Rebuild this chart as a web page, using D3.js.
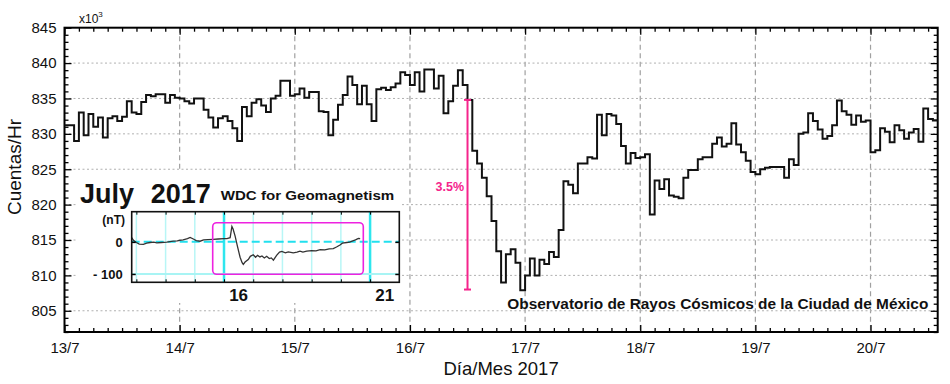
<!DOCTYPE html>
<html>
<head>
<meta charset="utf-8">
<script src="https://cdn.jsdelivr.net/npm/d3@7"></script>
<style>
  body { margin: 0; background: #fff; }
  svg text { font-family: 'Liberation Sans', Arial, sans-serif; }
</style>
</head>
<body>
<script>
// hourly counts (x10^3) from 13/7 00:00
const counts = [
  831.2, 831.2, 829.0, 833.0, 829.8, 832.8, 831.0, 832.3, 829.5, 832.2, 832.5, 831.8,
  832.4, 834.6, 833.0, 832.8, 834.5, 835.5, 835.3, 835.6, 835.6, 834.4, 835.5, 835.1,
  835.0, 834.6, 834.3, 835.0, 835.0, 833.4, 832.3, 830.9, 832.2, 832.5, 831.8, 830.8,
  829.0, 833.8, 832.5, 834.4, 834.9, 834.0, 833.1, 835.0, 835.4, 837.5, 837.5, 835.4,
  835.6, 836.4, 835.1, 835.9, 835.9, 833.2, 833.1, 829.8, 832.0, 834.1, 835.5, 838.1,
  836.9, 834.2, 836.8, 834.2, 831.8, 836.3, 836.5, 836.2, 836.6, 837.1, 838.7, 838.3,
  836.9, 838.7, 836.0, 839.1, 839.1, 836.4, 838.2, 832.9, 834.6, 836.8, 839.0, 836.9,
  834.8, 827.6, 825.8, 823.8, 821.2, 817.7, 813.4, 809.0, 813.0, 813.7, 811.8, 807.9,
  810.0, 812.4, 810.0, 812.2, 811.6, 813.3, 812.6, 816.4, 823.3, 822.8, 821.6, 825.8,
  825.8, 826.7, 826.5, 832.7, 829.8, 832.8, 832.6, 831.4, 828.3, 825.8, 827.3, 826.6,
  826.7, 827.1, 818.6, 823.4, 822.2, 823.6, 821.3, 821.1, 820.9, 823.8, 824.9, 824.9,
  826.4, 826.7, 826.7, 828.6, 829.5, 828.2, 828.6, 831.5, 828.5, 827.4, 826.2, 824.6,
  824.3, 825.0, 825.2, 825.3, 825.3, 825.3, 823.8, 826.4, 825.6, 830.0, 830.2, 832.9,
  831.8, 830.6, 829.3, 829.7, 831.2, 834.7, 833.2, 832.7, 831.3, 832.6, 831.7, 831.9,
  827.4, 827.7, 830.8, 830.3, 828.8, 831.2, 830.5, 829.3, 830.2, 830.7, 828.9, 833.6,
  832.1, 831.9
]
const endHour = 182
const dayLabels = ['13/7', '14/7', '15/7', '16/7', '17/7', '18/7', '19/7', '20/7']
const yTicks = [805, 810, 815, 820, 825, 830, 835, 840, 845]
const yMin = 802
const yMax = 845

// decrease marker
const dropHour = 84
const dropTop = 834.8
const dropBottom = 808
const dropLabel = '3.5%'

// inset: Dst index (nT), July 2017
const dstDays = [
  12.84, 12.9, 13.0, 13.1, 13.24, 13.35, 13.47, 13.6, 13.7, 13.85,
  14.04, 14.15, 14.26, 14.4, 14.49, 14.6, 14.75, 14.84, 14.95, 15.05,
  15.18, 15.3, 15.45, 15.63, 15.8, 16.0, 16.1, 16.21, 16.27, 16.31,
  16.38, 16.45, 16.55, 16.62, 16.66, 16.72, 16.83, 16.9, 17.0, 17.08,
  17.15, 17.23, 17.3, 17.38, 17.46, 17.55, 17.62, 17.69, 17.8, 17.9,
  17.98, 18.1, 18.2, 18.37, 18.5, 18.6, 18.7, 18.83, 19.0, 19.15,
  19.29, 19.45, 19.6, 19.74, 19.85, 19.97, 20.05, 20.2, 20.3, 20.43,
  20.5, 20.6, 20.66
]
const dstValues = [
  13, 5, -2, -7, -8, -4, -2, -1, -3, -2,
  -1, 1, 2, 3, 5, 6, 10, 14, 9, 4,
  2, 6, 7, 8, 9, 10, 10, 13, 48, 40,
  18, -10, -48, -65, -70, -63, -55, -45, -40, -48,
  -42, -47, -44, -50, -45, -52, -50, -57, -42, -32,
  -30, -34, -31, -34, -32, -29, -32, -29, -27, -28,
  -24, -25, -22, -21, -16, -10, -4, -2, -1, 4,
  6, 11, 10
]
const dstTicks = [0, -100]
const dstTickLabels = ['0', '- 100']
const dstDayLines = [13, 14, 15, 16, 17, 18, 19, 20, 21]
const dstDayLabels = [16, 21]

const w = 950
const h = 384
const margin = { top: 27.7, bottom: 52, left: 64.5, right: 12.3 }

const svg = d3.select('body')
  .append('svg')
  .attr('width', w)
  .attr('height', h)

const x = d3.scaleLinear()
  .domain([0, endHour])
  .range([margin.left, w - margin.right])

const y = d3.scaleLinear()
  .domain([yMin, yMax])
  .range([h - margin.bottom, margin.top])

const dayHours = dayLabels.map((d, i) => i * 24)

// grid
svg.append('g')
  .selectAll('line')
  .data(dayHours.slice(1))
  .enter()
  .append('line')
  .attr('x1', d => x(d))
  .attr('x2', d => x(d))
  .attr('y1', y(yMax))
  .attr('y2', y(yMin))
  .style('stroke', '#a0a0a0')
  .style('stroke-width', 1.2)
  .style('stroke-dasharray', '5,3.5')

svg.append('g')
  .selectAll('line')
  .data(yTicks.slice(0, -1))
  .enter()
  .append('line')
  .attr('x1', x(0))
  .attr('x2', x(endHour))
  .attr('y1', d => y(d))
  .attr('y2', d => y(d))
  .style('stroke', '#b0b0b0')
  .style('stroke-width', 1)
  .style('stroke-dasharray', '2,2.5')

// axes (ticks pointing inward)
const minorHours = d3.range(0, endHour + 1, 3).filter(d => d % 24 !== 0)
const minorY = d3.range(yMin, yMax + 1).filter(d => d % 5 !== 0)

function styleAxis(g) {
  g.select('.domain').remove()
  g.selectAll('line').style('stroke', '#000').style('stroke-width', 1.3)
  g.selectAll('text')
    .attr('fill', '#111')
    .style('font-size', '15px')
}

svg.append('g')
  .attr('transform', `translate(0,${y(yMin)})`)
  .call(d3.axisBottom(x).tickValues(minorHours).tickSize(-4).tickFormat(''))
  .call(styleAxis)

svg.append('g')
  .attr('transform', `translate(0,${y(yMin)})`)
  .call(d3.axisBottom(x).tickValues(dayHours).tickSize(-7).tickPadding(10)
    .tickFormat((d, i) => dayLabels[i]))
  .call(styleAxis)

svg.append('g')
  .attr('transform', `translate(0,${y(yMax)})`)
  .call(d3.axisTop(x).tickValues(minorHours).tickSize(-4).tickFormat(''))
  .call(styleAxis)

svg.append('g')
  .attr('transform', `translate(0,${y(yMax)})`)
  .call(d3.axisTop(x).tickValues(dayHours).tickSize(-7).tickFormat(''))
  .call(styleAxis)

svg.append('g')
  .attr('transform', `translate(${x(0)},0)`)
  .call(d3.axisLeft(y).tickValues(minorY).tickSize(-4).tickFormat(''))
  .call(styleAxis)

svg.append('g')
  .attr('transform', `translate(${x(0)},0)`)
  .call(d3.axisLeft(y).tickValues(yTicks).tickSize(-7).tickPadding(8))
  .call(styleAxis)

svg.append('g')
  .attr('transform', `translate(${x(endHour)},0)`)
  .call(d3.axisRight(y).tickValues(minorY).tickSize(-4).tickFormat(''))
  .call(styleAxis)

svg.append('g')
  .attr('transform', `translate(${x(endHour)},0)`)
  .call(d3.axisRight(y).tickValues(yTicks).tickSize(-7).tickFormat(''))
  .call(styleAxis)

// frame
svg.append('rect')
  .attr('x', x(0))
  .attr('y', y(yMax))
  .attr('width', x(endHour) - x(0))
  .attr('height', y(yMin) - y(yMax))
  .style('fill', 'none')
  .style('stroke', '#000')
  .style('stroke-width', 2)

// hourly step line
const stepData = counts.map((v, i) => [i, v]).concat([[endHour, counts[counts.length - 1]]])
svg.append('path')
  .datum(stepData)
  .attr('d', d3.line().x(d => x(d[0])).y(d => y(d[1])).curve(d3.curveStepAfter))
  .style('fill', 'none')
  .style('stroke', '#111')
  .style('stroke-width', 2)

// drop marker
const pink = '#f5248c'
const dm = svg.append('g').style('stroke', pink).style('stroke-width', 2)
dm.append('line')
  .attr('x1', x(dropHour)).attr('x2', x(dropHour))
  .attr('y1', y(dropTop)).attr('y2', y(dropBottom))
;[dropTop, dropBottom].forEach(v => {
  dm.append('line')
    .attr('x1', x(dropHour) - 3.5).attr('x2', x(dropHour) + 3.5)
    .attr('y1', y(v)).attr('y2', y(v))
})
svg.append('text')
  .attr('x', x(dropHour) - 3.5)
  .attr('y', y((dropTop + dropBottom) / 2) - 4)
  .attr('text-anchor', 'end')
  .attr('fill', pink)
  .style('font-size', '12.5px')
  .style('font-weight', 'bold')
  .text(dropLabel)

// labels
svg.append('text')
  .attr('transform', 'translate(21,167) rotate(-90)')
  .attr('text-anchor', 'middle')
  .attr('fill', '#111')
  .style('font-size', '19px')
  .text('Cuentas/Hr')

svg.append('text')
  .attr('x', (x(0) + x(endHour)) / 2 + 0)
  .attr('y', 375)
  .attr('text-anchor', 'middle')
  .attr('fill', '#111')
  .style('font-size', '18.5px')
  .text('Día/Mes 2017')

const mult = svg.append('text')
  .attr('x', 79)
  .attr('y', 23.3)
  .attr('fill', '#111')
  .style('font-size', '12px')
mult.append('tspan').text('x10')
mult.append('tspan').attr('dy', -6).style('font-size', '8px').text('3')

function fitText(sel, width) {
  const len = sel.node().getComputedTextLength()
  if (len > 0) sel.attr('textLength', width).attr('lengthAdjust', 'spacingAndGlyphs')
}

const obs = svg.append('text')
  .attr('x', 507.3)
  .attr('y', 309.3)
  .attr('fill', '#111')
  .style('font-size', '14px')
  .style('font-weight', 'bold')
  .text('Observatorio de Rayos Cósmicos de la Ciudad de México')
fitText(obs, 421)

// inset (Dst)
const inset = svg.append('g')
inset.append('rect')
  .attr('x', 78).attr('y', 172)
  .attr('width', 324).attr('height', 131)
  .style('fill', '#fff')

const ix = d3.scaleLinear().domain([12.84, 22]).range([131.7, 399.3])
const iy = d3.scaleLinear().domain([-126, 94]).range([282.3, 211.7])

inset.append('g')
  .selectAll('line')
  .data(dstDayLines)
  .enter()
  .append('line')
  .attr('x1', d => ix(d)).attr('x2', d => ix(d))
  .attr('y1', iy(94)).attr('y2', iy(-126))
  .style('stroke', d => dstDayLabels.includes(d) ? '#2ee6ee' : '#b8f6f6')
  .style('stroke-width', d => dstDayLabels.includes(d) ? 2.5 : 1.5)

inset.append('line')
  .attr('x1', ix(12.84)).attr('x2', ix(22))
  .attr('y1', iy(-100)).attr('y2', iy(-100))
  .style('stroke', '#a8f4f4')
  .style('stroke-width', 2)

inset.append('line')
  .attr('x1', ix(12.84)).attr('x2', ix(22))
  .attr('y1', iy(0)).attr('y2', iy(0))
  .style('stroke', '#22e0ee')
  .style('stroke-width', 2)
  .style('stroke-dasharray', '8,4')

inset.append('path')
  .datum(dstDays.map((d, i) => [d, dstValues[i]]))
  .attr('d', d3.line().x(d => ix(d[0])).y(d => iy(d[1])))
  .style('fill', 'none')
  .style('stroke', '#333')
  .style('stroke-width', 1.3)

inset.append('g')
  .attr('transform', `translate(0,${iy(94)})`)
  .call(d3.axisTop(ix).tickValues(dstDayLines).tickSize(-3).tickFormat(''))
  .call(g => { g.select('.domain').remove(); g.selectAll('line').style('stroke', '#000') })
inset.append('g')
  .attr('transform', `translate(0,${iy(-126)})`)
  .call(d3.axisBottom(ix).tickValues(dstDayLines).tickSize(-3).tickFormat(''))
  .call(g => { g.select('.domain').remove(); g.selectAll('line').style('stroke', '#000') })
inset.append('g')
  .attr('transform', `translate(${ix(12.84)},0)`)
  .call(d3.axisLeft(iy).tickValues(dstTicks).tickSize(-4).tickPadding(9)
    .tickFormat((d, i) => dstTickLabels[i]))
  .call(g => {
    g.select('.domain').remove()
    g.selectAll('line').style('stroke', '#000').style('stroke-width', 1.5)
    g.selectAll('text').attr('fill', '#111').style('font-size', '13px').style('font-weight', 'bold')
  })
inset.append('g')
  .attr('transform', `translate(${ix(22)},0)`)
  .call(d3.axisRight(iy).tickValues(dstTicks).tickSize(-4).tickFormat(''))
  .call(g => { g.select('.domain').remove(); g.selectAll('line').style('stroke', '#000').style('stroke-width', 1.5) })

inset.append('rect')
  .attr('x', ix(12.84)).attr('y', iy(94))
  .attr('width', ix(22) - ix(12.84)).attr('height', iy(-126) - iy(94))
  .style('fill', 'none')
  .style('stroke', '#111')
  .style('stroke-width', 1.6)

inset.append('rect')
  .attr('x', 212.7).attr('y', 222.7)
  .attr('width', 150.6).attr('height', 51.6)
  .attr('rx', 4)
  .style('fill', 'none')
  .style('stroke', '#ee22e0')
  .style('stroke-width', 1.6)

inset.append('g')
  .selectAll('text')
  .data(dstDayLabels)
  .enter()
  .append('text')
  .attr('x', d => ix(d + 0.5))
  .attr('y', 300.5)
  .attr('text-anchor', 'middle')
  .attr('fill', '#111')
  .style('font-size', '17px')
  .style('font-weight', 'bold')
  .text(d => d)

inset.append('text')
  .attr('x', 125).attr('y', 224)
  .attr('text-anchor', 'end')
  .attr('fill', '#111')
  .style('font-size', '12px')
  .style('font-weight', 'bold')
  .text('(nT)')

inset.append('text')
  .attr('x', 80).attr('y', 202.5)
  .attr('fill', '#111')
  .style('font-size', '27px')
  .style('font-weight', 'bold')
  .text('July')
inset.append('text')
  .attr('x', 150.7).attr('y', 202.5)
  .attr('fill', '#111')
  .style('font-size', '27px')
  .style('font-weight', 'bold')
  .text('2017')
const wdc = inset.append('text')
  .attr('x', 220.7).attr('y', 200)
  .attr('fill', '#111')
  .style('font-size', '13.5px')
  .style('font-weight', 'bold')
  .text('WDC for Geomagnetism')
fitText(wdc, 173.6)
</script>
</body>
</html>
